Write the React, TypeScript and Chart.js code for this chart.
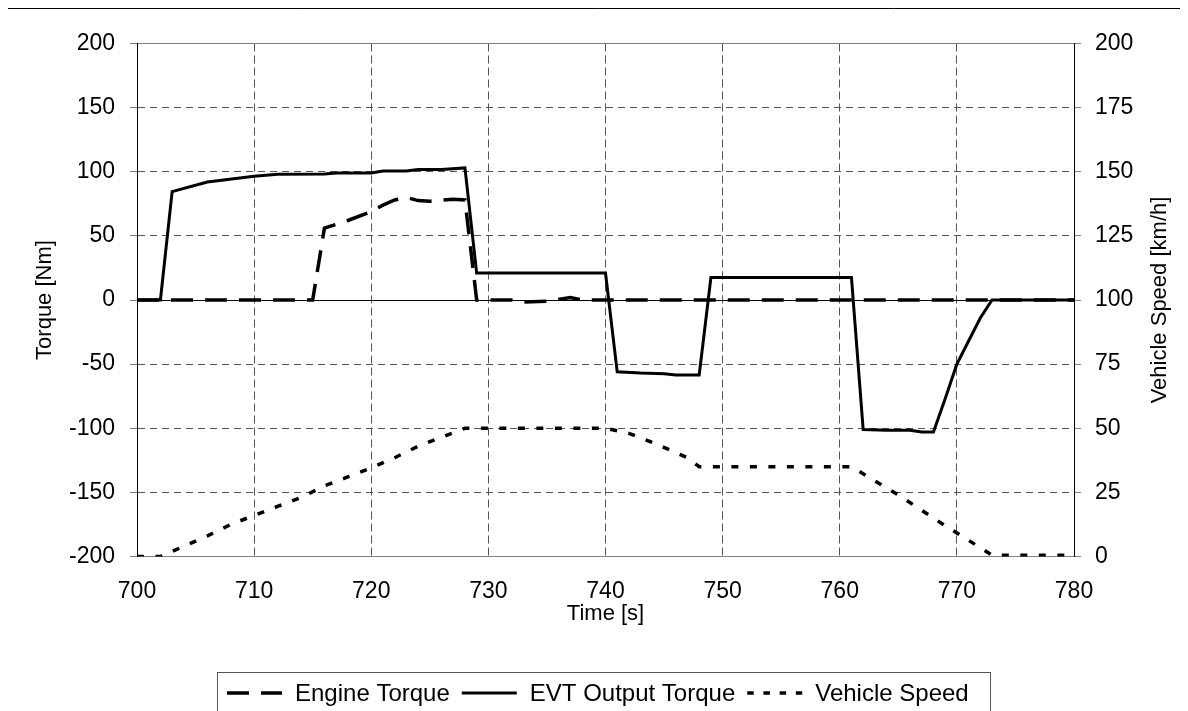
import React, { useEffect, useRef } from "react";
import { Chart, registerables } from "chart.js";

Chart.register(...registerables);

// ---- data ----
const engineTime = [700, 715, 716, 718, 720, 721, 722, 723, 724, 725, 727, 728, 729, 732, 733, 735, 737, 738, 780];
const engineTorque = [0, 0, 56, 62, 69, 74, 78, 80, 77.5, 77, 78.5, 78, 0, 0, -1.5, -1, 2, 0, 0];

const evtTime = [700, 702, 703, 706, 710, 712, 716, 717, 720, 721, 723, 724, 726, 728, 729, 740, 741, 743, 745, 746, 748, 749, 761, 762, 764, 766, 767, 768, 769, 770, 771, 772, 773, 780];
const evtTorque = [0, 0, 84.5, 92, 96.5, 98, 98.3, 99, 99, 100.5, 100.5, 101.8, 101.8, 103, 21, 21, -56, -57, -57.5, -58.5, -58.5, 17.5, 17.5, -101, -101.5, -101.5, -103, -103, -77, -50, -32, -14, 0, 0];

const speedTime = [700, 702, 704, 706, 708, 710, 712, 714, 716, 718, 720, 722, 724, 726, 728, 740, 742, 744, 746, 747, 748, 761, 763, 765, 767, 769, 771, 773, 780];
const speedKmh = [0, 0, 4, 8, 12.5, 16, 19.5, 23, 27.5, 31, 34.6, 38.5, 43, 46.5, 50, 50, 48, 44.5, 40.5, 38.5, 35, 35, 29.5, 24, 18, 12, 6.3, 0.5, 0.5];

const seriesLabels = ["Engine Torque", "EVT Output Torque", "Vehicle Speed"];
const xTitle = "Time [s]";
const yTitle = "Torque [Nm]";
const y2Title = "Vehicle Speed [km/h]";

const FONT = "'Liberation Sans', Arial, sans-serif";
const FS_TICK = 23;
const FS_TITLE = 22;
const FS_LEG = 24;

const styles = [
  { dash: [22, 12], legendDash: [22, 12], width: 3.5 },
  { dash: [], legendDash: [], width: 3 },
  { dash: [7, 11.5], legendDash: [6.5, 9.7], width: 3.5 },
];

// canvas origin is page (7, 8)
const frameAndExtras = {
  id: "frameAndExtras",
  beforeDraw(chart: any) {
    const ctx = chart.ctx as CanvasRenderingContext2D;
    ctx.save();
    ctx.fillStyle = "#fff";
    ctx.fillRect(0, 0, chart.width, chart.height);
    ctx.strokeStyle = "#000";
    ctx.lineWidth = 1;
    ctx.beginPath();
    ctx.moveTo(0.5, chart.height + 5);
    ctx.lineTo(0.5, 0.5);
    ctx.lineTo(chart.width + 5, 0.5);
    ctx.stroke();
    ctx.restore();
  },
  afterDraw(chart: any) {
    const ctx = chart.ctx as CanvasRenderingContext2D;
    const ca = chart.chartArea;
    // right axis title (reads bottom to top)
    ctx.save();
    ctx.font = `${FS_TITLE}px ${FONT}`;
    ctx.fillStyle = "#000";
    ctx.translate(1153, (ca.top + ca.bottom) / 2);
    ctx.rotate(-Math.PI / 2);
    ctx.textAlign = "center";
    ctx.textBaseline = "middle";
    ctx.fillText(y2Title, 0, 0);
    ctx.restore();

    // legend box
    ctx.save();
    const bx = 210.5, by = 664.5, bw = 773, bh = 80;
    ctx.strokeStyle = "#555";
    ctx.lineWidth = 1;
    ctx.strokeRect(bx, by, bw, bh);
    const cy = 685;
    let x = 220;
    ctx.font = `${FS_LEG}px ${FONT}`;
    ctx.textBaseline = "middle";
    ctx.textAlign = "left";
    ctx.fillStyle = "#000";
    for (let i = 0; i < seriesLabels.length; i++) {
      const st = styles[i];
      ctx.save();
      ctx.strokeStyle = "#000";
      ctx.lineWidth = st.width;
      ctx.lineCap = "butt";
      ctx.setLineDash(st.legendDash);
      ctx.beginPath();
      ctx.moveTo(x, cy);
      ctx.lineTo(x + 55, cy);
      ctx.stroke();
      ctx.restore();
      x += 55 + 13;
      ctx.fillText(seriesLabels[i], x, cy + 1);
      x += ctx.measureText(seriesLabels[i]).width + 12;
    }
    ctx.restore();
  },
};

export default function App() {
  const ref = useRef<HTMLCanvasElement | null>(null);

  useEffect(() => {
    document.documentElement.style.overflow = "hidden";
    document.body.style.overflow = "hidden";
    const canvas = ref.current;
    if (!canvas) return;
    const pts = (t: number[], v: number[]) => t.map((tt, i) => ({ x: tt, y: v[i] }));
    const gridDashY = (c: any) => {
      const v = c.tick ? c.tick.value : null;
      return v === 0 || v === 200 || v === -200 ? [] : [7, 5];
    };
    const chart = new Chart(canvas, {
      type: "line",
      data: {
        datasets: [
          {
            label: seriesLabels[0],
            data: pts(engineTime, engineTorque),
            borderColor: "#000",
            backgroundColor: "#000",
            borderWidth: styles[0].width,
            borderDash: styles[0].dash,
            pointRadius: 0,
            tension: 0,
            fill: false,
            yAxisID: "y",
          },
          {
            label: seriesLabels[1],
            data: pts(evtTime, evtTorque),
            borderColor: "#000",
            backgroundColor: "#000",
            borderWidth: styles[1].width,
            pointRadius: 0,
            tension: 0,
            fill: false,
            yAxisID: "y",
          },
          {
            label: seriesLabels[2],
            data: pts(speedTime, speedKmh),
            borderColor: "#000",
            backgroundColor: "#000",
            borderWidth: styles[2].width,
            borderDash: styles[2].dash,
            pointRadius: 0,
            tension: 0,
            fill: false,
            yAxisID: "y2",
          },
        ],
      },
      options: {
        animation: false,
        responsive: false,
        maintainAspectRatio: false,
        layout: { padding: { top: 35.5, left: 0, right: 0, bottom: 0 } },
        plugins: {
          legend: { display: false },
          tooltip: { enabled: false },
        },
        scales: {
          x: {
            type: "linear",
            min: 700,
            max: 780,
            ticks: {
              stepSize: 10,
              color: "#000",
              font: { family: FONT, size: FS_TICK },
              padding: 21.7,
              maxRotation: 0,
            },
            grid: {
              drawTicks: false,
              color: (c: any) =>
                c.tick && (c.tick.value === 700 || c.tick.value === 780) ? "rgba(0,0,0,0)" : "#555",
              lineWidth: 1,
            },
            border: { display: false, dash: [8, 4] },
            title: {
              display: true,
              text: xTitle,
              color: "#000",
              font: { family: FONT, size: FS_TITLE },
              padding: { top: 0, bottom: 84 },
            },
            afterFit: (s: any) => {
              s.height = 154.5;
            },
          },
          y: {
            type: "linear",
            position: "left",
            min: -200,
            max: 200,
            ticks: {
              stepSize: 50,
              color: "#000",
              font: { family: FONT, size: FS_TICK },
              padding: 15,
            },
            grid: {
              color: (c: any) => {
                const v = c.tick ? c.tick.value : null;
                if (v === 0) return "#000";
                if (v === 200 || v === -200) return "#808080";
                return "#555";
              },
              lineWidth: 1,
              tickLength: 7,
              tickColor: "#808080",
              tickBorderDash: [],
            },
            border: { display: true, color: "#000", width: 1, dash: gridDashY },
            title: {
              display: true,
              text: yTitle,
              color: "#000",
              font: { family: FONT, size: FS_TITLE },
              padding: { top: 24.8, bottom: 0 },
            },
            afterFit: (s: any) => {
              s.width = 130;
            },
          },
          y2: {
            type: "linear",
            position: "right",
            min: 0,
            max: 200,
            ticks: {
              stepSize: 25,
              color: "#000",
              font: { family: FONT, size: FS_TICK },
              padding: 14,
            },
            grid: {
              drawOnChartArea: false,
              tickLength: 7,
              tickColor: "#808080",
              tickBorderDash: [],
            },
            border: { display: true, color: "#000", width: 1 },
            afterFit: (s: any) => {
              s.width = 114;
            },
          },
        },
      },
      plugins: [frameAndExtras],
    } as any);
    return () => chart.destroy();
  }, []);

  return (
    <div style={{ position: "relative", marginLeft: -1, width: 1181, height: 703 }}>
      <canvas
        ref={ref}
        width={1181}
        height={703}
        style={{ display: "block", position: "absolute", left: 0, top: 0 }}
      />
    </div>
  );
}
